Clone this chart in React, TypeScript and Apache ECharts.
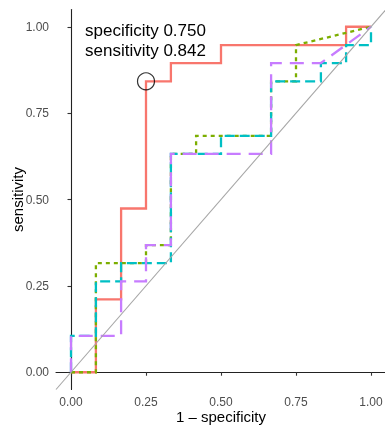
import React, { useEffect, useRef } from "react";
import * as echarts from "echarts";

// 1 - specificity (x) and sensitivity (y) for each ROC curve
const redX = [0, 0.083, 0.083, 0.167, 0.167, 0.25, 0.25, 0.333, 0.333, 0.5, 0.5, 0.917, 0.917, 1];
const redY = [0, 0, 0.211, 0.211, 0.474, 0.474, 0.842, 0.842, 0.895, 0.895, 0.947, 0.947, 1, 1];

const greenX = [0, 0.083, 0.083, 0.25, 0.25, 0.333, 0.333, 0.417, 0.417, 0.667, 0.667, 0.75, 0.75, 1];
const greenY = [0, 0, 0.316, 0.316, 0.368, 0.368, 0.632, 0.632, 0.684, 0.684, 0.842, 0.842, 0.947, 1];

const cyanX = [0, 0, 0.083, 0.083, 0.167, 0.167, 0.333, 0.333, 0.5, 0.5, 0.667, 0.667, 0.833, 0.833, 0.917, 0.917, 1, 1];
const cyanY = [0, 0.105, 0.105, 0.263, 0.263, 0.316, 0.316, 0.632, 0.632, 0.684, 0.684, 0.842, 0.842, 0.895, 0.895, 0.947, 0.947, 1];

const purpleX = [0, 0, 0.167, 0.167, 0.25, 0.25, 0.333, 0.333, 0.667, 0.667, 0.833, 1];
const purpleY = [0, 0.105, 0.105, 0.263, 0.263, 0.368, 0.368, 0.632, 0.632, 0.895, 0.895, 1];

const thresholdPoint = [0.25, 0.842];
const thresholdSpecificity = 0.75;
const thresholdSensitivity = 0.842;

const tickValues = [0, 0.25, 0.5, 0.75, 1];
const diagonal = [-0.05, 1.05];

const zip = (xs: number[], ys: number[]) => xs.map((x, i) => [x, ys[i]]);

export default function App() {
  const ref = useRef<HTMLDivElement>(null);
  useEffect(() => {
    if (!ref.current) return;
    const chart = echarts.init(ref.current, null, { renderer: "svg" });
    const font = "'Liberation Sans', Arial, sans-serif";
    const axisCommon = {
      type: "value" as const,
      min: -0.05,
      max: 1.05,
      nameLocation: "middle" as const,
      nameMoveOverlap: false,
      nameTextStyle: { color: "#000", fontSize: 15, lineHeight: 15, fontFamily: font },
      axisLine: { show: true, lineStyle: { color: "#222", width: 1.1 } },
      axisTick: { show: true, length: 3.5, inside: false, customValues: tickValues, lineStyle: { color: "#333", width: 1.1 } },
      axisLabel: {
        customValues: tickValues,
        color: "#4D4D4D",
        fontSize: 12,
        lineHeight: 12,
        fontFamily: font,
        formatter: (v: number) => v.toFixed(2),
      },
      splitLine: { show: false },
    };
    const lineSeries = (data: number[][], color: string, dash: any, z: number) => ({
      type: "line",
      data,
      showSymbol: false,
      symbol: "none",
      z,
      lineStyle: { color, width: 2.3, type: dash, cap: "butt", join: "miter" },
      silent: true,
    });
    chart.setOption({
      animation: false,
      grid: { left: 56, top: 9.5, width: 330, height: 380, containLabel: false, outerBoundsMode: "none" },
      xAxis: { ...axisCommon, name: "1 \u2013 specificity", nameGap: 19, axisLabel: { ...axisCommon.axisLabel, margin: 6 } },
      yAxis: { ...axisCommon, name: "sensitivity", nameGap: 31, axisLabel: { ...axisCommon.axisLabel, margin: 7 } },
      series: [
        lineSeries(zip(redX, redY), "#F8766D", "solid", 2),
        lineSeries(zip(greenX, greenY), "#7CAE00", [4, 4], 3),
        lineSeries(zip(cyanX, cyanY), "#00BFC4", [10, 5], 4),
        lineSeries(zip(purpleX, purpleY), "#C77CFF", [14, 8], 5),
        {
          type: "line",
          data: zip(diagonal, diagonal),
          showSymbol: false,
          symbol: "none",
          z: 6,
          silent: true,
          lineStyle: { color: "#A6A6A6", width: 1.1 },
        },
        {
          type: "scatter",
          data: [thresholdPoint],
          symbol: "circle",
          symbolSize: 17,
          z: 7,
          silent: true,
          itemStyle: { color: "rgba(0,0,0,0)", borderColor: "#000", borderWidth: 1.2 },
        },
      ],
      graphic: [
        {
          type: "text",
          left: 85,
          top: 20.5,
          style: {
            text: `specificity ${thresholdSpecificity.toFixed(3)}\nsensitivity ${thresholdSensitivity.toFixed(3)}`,
            fill: "#000",
            fontSize: 17,
            fontFamily: font,
            lineHeight: 20,
          },
        },
      ],
    });
    return () => chart.dispose();
  }, []);
  return <div ref={ref} style={{ position: "fixed", left: 0, top: 0, width: 385, height: 427 }} />;
}
